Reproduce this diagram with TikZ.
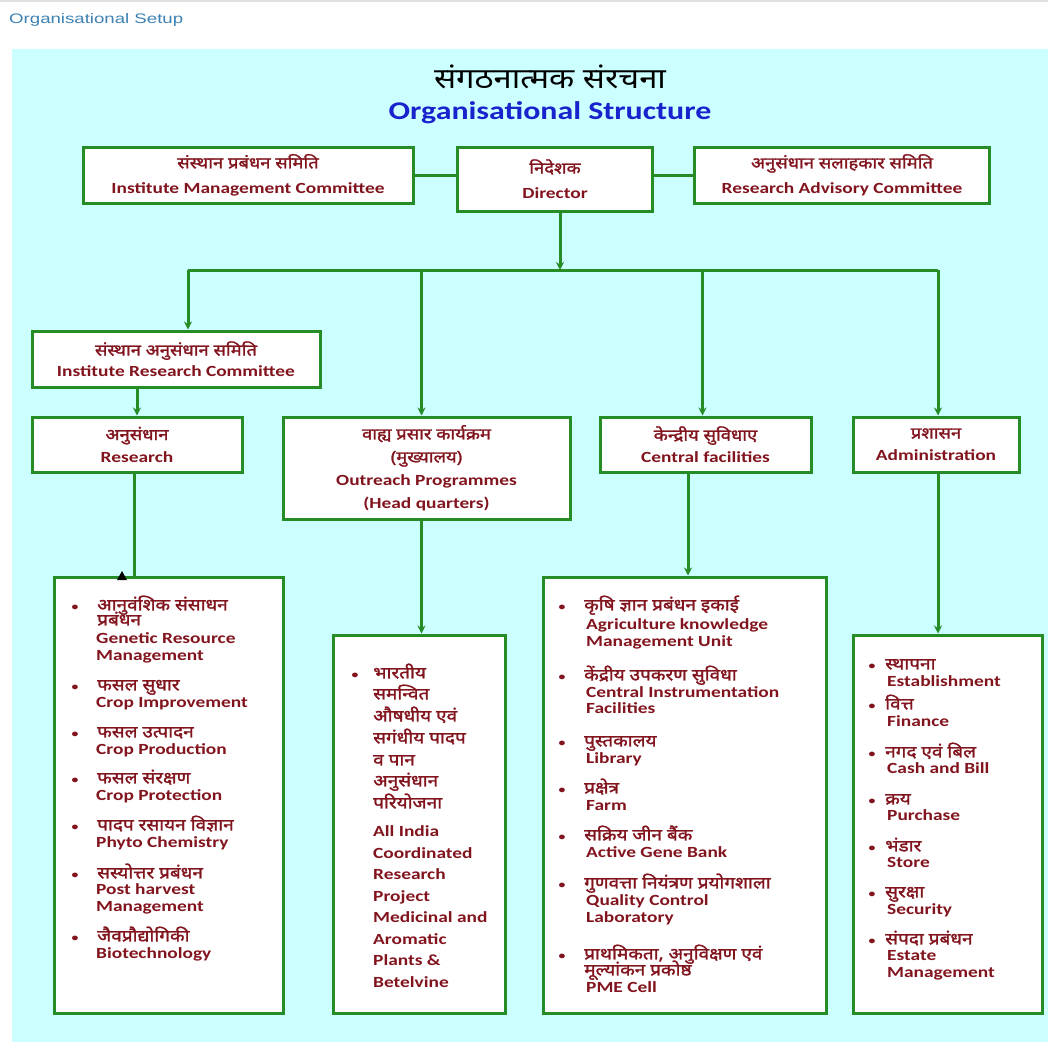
\documentclass[tikz,border=0pt]{standalone}
\usepackage{fontspec}
\usetikzlibrary{arrows.meta}
\setmainfont{Carlito}
\newfontfamily\engf[FakeStretch=1.25]{Carlito}
\newfontfamily\hinf[Script=Devanagari,FakeStretch=1.15,FakeBold=1.6]{Noto Sans}
\newfontfamily\hintitlef[Script=Devanagari,FakeStretch=1.15]{Noto Sans}
\newfontfamily\webf[FakeStretch=1.35]{Liberation Sans}
\definecolor{bgcyan}{RGB}{204,255,255}
\definecolor{boxgreen}{RGB}{38,140,38}
\definecolor{txtred}{RGB}{130,20,30}
\definecolor{headblue}{RGB}{25,35,205}
\definecolor{setupblue}{RGB}{60,130,180}
\newcommand\hintext[1]{{\hinf\fontsize{16}{18}\selectfont #1}}

\begin{document}
\begin{tikzpicture}[x=1pt,y=-1pt,
  orgbox/.style={draw=boxgreen,line width=3pt,fill=white,inner sep=0pt,
    text=txtred,align=center,font=\engf\bfseries\fontsize{15.5}{22}\selectfont},
  listen/.style={text=txtred,anchor=mid west,inner sep=0pt,
    font=\engf\bfseries\fontsize{15.5}{17}\selectfont},
  listhi/.style={text=txtred,anchor=mid west,inner sep=0pt,
    font=\hinf\fontsize{16.5}{18}\selectfont},
  bul/.style={text=txtred,inner sep=0pt,font=\engf\bfseries\fontsize{11}{11}\selectfont},
  link/.style={draw=boxgreen,line width=3pt},
  linkarr/.style={link,-{Stealth[length=8pt,width=8pt]}}]

\useasboundingbox (0,0) rectangle (1048,1042);
\fill[white] (0,0) rectangle (1048,1042);
\draw[black!12,line width=2pt] (0,1) -- (1048,1);
\fill[bgcyan] (12,49) rectangle (1048,1042);

\node[anchor=west,inner sep=0pt,text=setupblue,font=\webf\fontsize{13.8}{14}\selectfont]
  (setup) at (9,20) {Organisational Setup};
\node[font=\hintitlef\fontsize{28.5}{29}\selectfont] (titlehi) at (550,77) {संगठनात्मक संरचना};
\node[text=headblue,font=\engf\bfseries\fontsize{25.5}{26}\selectfont]
  (title) at (550,113) {Organisational Structure};

% top row
\node[orgbox,minimum width=330,minimum height=56,font=\engf\bfseries\fontsize{15.5}{25}\selectfont]
  (imc) at (248,175) {\hintext{संस्थान प्रबंधन समिति}\\Institute Management Committee};
\node[orgbox,minimum width=195,minimum height=64,font=\engf\bfseries\fontsize{15.5}{25}\selectfont]
  (dir) at (555,179) {\hintext{निदेशक}\\Director};
\node[orgbox,minimum width=295,minimum height=56,font=\engf\bfseries\fontsize{15.5}{25}\selectfont]
  (rac) at (842,175) {\hintext{अनुसंधान सलाहकार समिति}\\Research Advisory Committee};

% second and third row
\node[orgbox,minimum width=288,minimum height=56,font=\engf\bfseries\fontsize{15.5}{21}\selectfont]
  (irc) at (176,359) {\hintext{संस्थान अनुसंधान समिति}\\Institute Research Committee};
\node[orgbox,minimum width=210,minimum height=55]
  (res) at (137,444.5) {\hintext{अनुसंधान}\\Research};
\node[orgbox,minimum width=287,minimum height=102,font=\engf\bfseries\fontsize{15.5}{23}\selectfont]
  (out) at (426.5,468) {\hintext{वाह्य प्रसार कार्यक्रम}\\\hintext{(मुख्यालय)}\\Outreach Programmes\\(Head quarters)};
\node[orgbox,minimum width=211,minimum height=55]
  (cen) at (705.5,444.5) {\hintext{केन्द्रीय सुविधाए}\\Central facilities};
\node[orgbox,minimum width=166,minimum height=55]
  (adm) at (936,444.5) {\hintext{प्रशासन}\\Administration};

% list boxes
\node[orgbox,minimum width=229,minimum height=436] (reslist) at (169,795) {};
\node[orgbox,minimum width=172,minimum height=378] (aicrp) at (419,824) {};
\node[orgbox,minimum width=283,minimum height=436] (cenlist) at (685,795) {};
\node[orgbox,minimum width=189,minimum height=378] (admlist) at (947.5,824) {};

% connectors
\draw[link] (imc.east) -- (imc.east -| dir.west);
\draw[link] (dir.east |- rac.west) -- (rac.west);
\coordinate (busmid) at (560,270);
\coordinate (busleft) at (188,270);
\coordinate (busright) at (938,270);
\draw[linkarr] (dir.south -| busmid) -- (busmid);
\draw[link] (busleft) -- (busright);
\draw[linkarr] (busleft) -- (busleft |- irc.north);
\draw[linkarr] ([xshift=-5pt]busleft -| out.north) -- ([xshift=-5pt]out.north);
\draw[linkarr] ([xshift=-3pt]busleft -| cen.north) -- ([xshift=-3pt]cen.north);
\draw[linkarr] (busright) -- (busright |- adm.north);
\draw[linkarr] (irc.south -| res.north) -- (res.north);
\draw[link] ([xshift=-3pt]res.south) -- ([xshift=-3pt]res.south |- reslist.north);
\fill[black] (117,580) -- (127,580) -- (122,571) -- cycle;
\draw[linkarr] ([xshift=-5pt]out.south) -- ([xshift=-5pt]out.south |- aicrp.north);
\draw[linkarr] (cen.south -| 688,0) -- (cenlist.north -| 688,0);
\draw[linkarr] (adm.south -| busright) -- (admlist.north -| busright);

% research list
\foreach \y in {608,688,735,781,828,876,939}
  \node[bul] (rb\y) at (75,\y) {•};
\foreach \y/\t in {608/आनुवंशिक संसाधन,623/प्रबंधन,688/फसल सुधार,735/फसल उत्पादन,
    781/फसल संरक्षण,828/पादप रसायन विज्ञान,876/सस्योत्तर प्रबंधन,939/जैवप्रौद्योगिकी}
  \node[listhi] (rh\y) at (97,\y) {\t};
\foreach \y/\t in {641/Genetic Resource,658/Management,705/Crop Improvement,
    752/Crop Production,798/Crop Protection,845/Phyto Chemistry,892/Post harvest,
    909/Management,956/Biotechnology}
  \node[listen] (re\y) at (96,\y) {\t};

% outreach list
\node[bul] (ab676) at (355,676) {•};
\foreach \y/\t in {676/भारतीय,697/समन्वित,719/औषधीय एवं,741/सगंधीय पादप,763/व पान,
    784/अनुसंधान,806/परियोजना}
  \node[listhi] (ah\y) at (373,\y) {\t};
\foreach \y/\t in {834/All India,856/Coordinated,877/Research,899/Project,
    920/Medicinal and,942/Aromatic,963/Plants \&,985/Betelvine}
  \node[listen] (ae\y) at (373,\y) {\t};

% central facilities list
\foreach \y in {608,678,744,791,838,886,957}
  \node[bul] (cb\y) at (562,\y) {•};
\foreach \y/\t in {608/कृषि ज्ञान प्रबंधन इकाई,678/केंद्रीय उपकरण सुविधा,744/पुस्तकालय,
    791/प्रक्षेत्र,838/सक्रिय जीन बैंक,886/गुणवत्ता नियंत्रण प्रयोगशाला,
    957/{प्राथमिकता, अनुविक्षण एवं},973/मूल्यांकन प्रकोष्ठ}
  \node[listhi] (ch\y) at (584,\y) {\t};
\foreach \y/\t in {627/Agriculture knowledge,644/Management Unit,695/Central Instrumentation,
    711/Facilities,761/Library,808/Farm,855/Active Gene Bank,903/Quality Control,
    920/Laboratory,990/PME Cell}
  \node[listen] (ce\y) at (586,\y) {\t};

% administration list
\foreach \y in {667,707,755,802,849,895,942}
  \node[bul] (db\y) at (872,\y) {•};
\foreach \y/\t in {667/स्थापना,707/वित्त,755/नगद एवं बिल,802/क्रय,849/भंडार,
    895/सुरक्षा,942/संपदा प्रबंधन}
  \node[listhi] (dh\y) at (885,\y) {\t};
\foreach \y/\t in {684/Establishment,724/Finance,771/Cash and Bill,818/Purchase,
    865/Store,912/Security,958/Estate,975/Management}
  \node[listen] (de\y) at (887,\y) {\t};
\end{tikzpicture}
\end{document}
